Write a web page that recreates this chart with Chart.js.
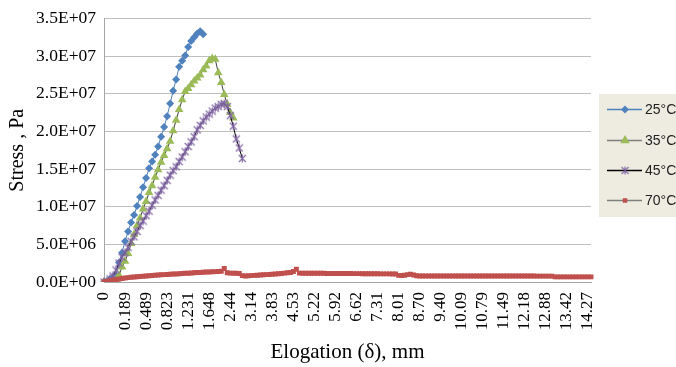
<!DOCTYPE html>
<html>
<head>
<meta charset="utf-8">
<script src="https://cdn.jsdelivr.net/npm/chart.js@4/dist/chart.umd.min.js"></script>
<style>
html,body{margin:0;padding:0;background:#fff;}
#wrap{width:676px;height:367px;position:relative;}
</style>
</head>
<body>
<div id="wrap"><canvas id="c" width="676" height="367"></canvas></div>
<script>
// ---- data ----
const tickLabels = ['0','0.189','0.489','0.823','1.231','1.648','2.44','3.14','3.83','4.53','5.22','5.92','6.62','7.31','8.01','8.70','9.40','10.09','10.79','11.49','12.18','12.88','13.42','14.27'];
const categoryCount = 163;
const labelStep = 7;
const seriesNames = ['25°C','35°C','45°C','70°C'];

const stress25 = [0,0.13e6,0.4e6,0.65e6,0.9e6,2.6e6,3.9e6,5.4e6,6.7e6,7.9e6,8.9e6,10.1e6,11.3e6,12.6e6,13.8e6,15.1e6,16.0e6,16.9e6,18.0e6,19.3e6,20.6e6,22.0e6,23.7e6,25.4e6,26.9e6,28.6e6,29.4e6,30.1e6,31.2e6,32.0e6,32.5e6,33.0e6,33.3e6,32.9e6];

const stress35 = [0,0,0.05e6,0.15e6,0.3e6,0.9e6,2.0e6,2.75e6,3.8e6,5.1e6,6.3e6,7.5e6,8.5e6,9.7e6,10.7e6,11.9e6,12.8e6,13.9e6,14.9e6,15.9e6,16.8e6,17.7e6,18.7e6,20.1e6,21.5e6,22.9e6,24.2e6,25.3e6,25.7e6,26.2e6,26.7e6,27.1e6,27.5e6,28.2e6,28.7e6,29.4e6,29.7e6,29.6e6,27.8e6,26.5e6,24.9e6,23.6e6,22.5e6,21.8e6];

const stress45 = [0,0.1e6,0.4e6,0.8e6,1.6e6,2.5e6,3.3e6,3.9e6,4.6e6,5.4e6,6.0e6,6.7e6,7.5e6,8.1e6,8.8e6,9.4e6,10.2e6,10.9e6,11.5e6,12.2e6,12.8e6,13.5e6,14.2e6,14.8e6,15.3e6,16.0e6,16.6e6,17.3e6,18.0e6,18.6e6,19.3e6,20.2e6,20.8e6,21.4e6,21.9e6,22.3e6,22.7e6,23.1e6,23.3e6,23.6e6,23.7e6,23.3e6,22.1e6,20.7e6,19.0e6,17.8e6,16.4e6];

const stress70 = [
0,0.08e6,0.16e6,0.24e6,0.32e6,0.40e6,0.47e6,0.53e6,0.58e6,0.62e6,0.66e6,0.70e6,0.73e6,0.77e6,0.80e6,0.84e6,0.87e6,0.90e6,0.93e6,0.95e6,
0.98e6,1.00e6,1.03e6,1.05e6,1.07e6,1.10e6,1.12e6,1.15e6,1.17e6,1.20e6,1.22e6,1.25e6,1.27e6,1.30e6,1.32e6,1.34e6,1.36e6,1.38e6,1.40e6,1.43e6,
1.80e6,1.22e6,1.18e6,1.17e6,1.15e6,1.12e6,0.85e6,0.80e6,0.82e6,0.85e6,0.88e6,0.90e6,0.93e6,0.95e6,0.98e6,1.00e6,1.03e6,1.06e6,1.10e6,1.14e6,
1.18e6,1.22e6,1.26e6,1.40e6,1.70e6,1.18e6,
1.17e6,1.17e6,1.16e6,1.16e6,1.16e6,1.15e6,1.15e6,1.15e6,1.14e6,1.14e6,1.14e6,1.13e6,1.13e6,1.13e6,1.12e6,1.12e6,1.12e6,1.11e6,1.11e6,1.11e6,
1.10e6,1.10e6,1.10e6,1.09e6,1.09e6,1.09e6,1.08e6,1.08e6,1.08e6,1.08e6,1.07e6,1.07e6,
0.88e6,0.86e6,0.90e6,0.98e6,1.04e6,0.92e6,0.84e6,
0.80e6,0.80e6,0.80e6,0.79e6,0.80e6,0.80e6,0.80e6,0.80e6,0.79e6,0.79e6,0.80e6,0.80e6,0.80e6,0.80e6,0.79e6,0.79e6,0.79e6,0.80e6,0.80e6,0.80e6,
0.79e6,0.79e6,0.79e6,0.79e6,0.80e6,0.80e6,0.79e6,0.79e6,0.79e6,0.79e6,0.79e6,0.79e6,0.79e6,0.79e6,0.79e6,0.79e6,0.79e6,0.79e6,0.79e6,0.78e6,
0.78e6,0.78e6,0.78e6,0.78e6,0.78e6,
0.68e6,0.68e6,0.68e6,0.68e6,0.68e6,0.68e6,0.68e6,0.68e6,0.68e6,0.68e6,0.68e6,0.68e6,0.68e6
];

// ---- build the category labels ----
const categories = [];
for (let i = 0; i < categoryCount; i++) {
  categories.push(i % labelStep === 0 && tickLabels[i / labelStep] !== undefined ? tickLabels[i / labelStep] : '');
}

function sci(v) {
  if (v === 0) return '0.0E+00';
  const e = Math.floor(Math.log10(v) + 1e-9);
  const m = v / Math.pow(10, e);
  return m.toFixed(1) + 'E+' + String(e).padStart(2, '0');
}

// asterisk marker (x plus vertical stroke), like the spreadsheet "star" marker
function makeAsterisk(color) {
  const c = document.createElement('canvas');
  c.width = 9; c.height = 9;
  const g = c.getContext('2d');
  g.strokeStyle = color; g.lineWidth = 1.1;
  g.beginPath();
  g.moveTo(1, 1); g.lineTo(8, 8);
  g.moveTo(8, 1); g.lineTo(1, 8);
  g.moveTo(4.5, 0.5); g.lineTo(4.5, 8.5);
  g.stroke();
  return c;
}
const asterisk = makeAsterisk('#8064A2');

const serif = "'Liberation Serif', 'Times New Roman', serif";

const legendPlugin = {
  id: 'boxLegend',
  afterDraw(chart) {
    const ctx = chart.ctx;
    ctx.save();
    ctx.fillStyle = '#EEECE1';
    ctx.fillRect(599, 94, 77, 123);
    const ys = [109, 140, 170, 200];
    chart.data.datasets.forEach((ds, i) => {
      const y = ys[i];
      ctx.strokeStyle = ds.legendLine;
      ctx.lineWidth = 1.3;
      ctx.beginPath(); ctx.moveTo(607, y + 0.5); ctx.lineTo(642, y + 0.5); ctx.stroke();
      ctx.fillStyle = ds.pointBackgroundColor;
      ctx.strokeStyle = ds.pointBorderColor;
      Chart.helpers.drawPoint(ctx, {pointStyle: ds.pointStyle, radius: ds.legendRadius, rotation: 0, borderWidth: ds.pointBorderWidth}, 625, y + 0.5);
      ctx.fillStyle = '#222';
      ctx.font = "14px 'Liberation Sans', Arial, sans-serif";
      ctx.textBaseline = 'middle';
      ctx.textAlign = 'left';
      ctx.fillText(ds.label, 645, y + 1);
    });
    ctx.restore();
  }
};

new Chart(document.getElementById('c'), {
  type: 'line',
  data: {
    labels: categories,
    datasets: [
      {label: seriesNames[0], data: stress25, order: 4, borderColor: '#4F81BD', borderWidth: 1, legendLine: '#4F81BD',
       pointStyle: 'rectRot', pointRadius: 4, legendRadius: 4, pointBackgroundColor: '#4F81BD', pointBorderColor: '#4F81BD', pointBorderWidth: 0},
      {label: seriesNames[1], data: stress35, order: 3, borderColor: '#404040', borderWidth: 1, legendLine: '#808080',
       pointStyle: 'triangle', pointRadius: 5, legendRadius: 5.5, pointBackgroundColor: '#9BBB59', pointBorderColor: '#9BBB59', pointBorderWidth: 0},
      {label: seriesNames[2], data: stress45, order: 2, borderColor: '#000000', borderWidth: 1, legendLine: '#000000',
       pointStyle: asterisk, pointRadius: 4, legendRadius: 4, pointBackgroundColor: '#8064A2', pointBorderColor: '#8064A2', pointBorderWidth: 1},
      {label: seriesNames[3], data: stress70, order: 1, borderColor: '#7F7F7F', borderWidth: 1, legendLine: '#7F7F7F',
       pointStyle: 'rect', pointRadius: 3.5, legendRadius: 3.2, pointBackgroundColor: '#C0504D', pointBorderColor: '#C0504D', pointBorderWidth: 0}
    ]
  },
  options: {
    responsive: false,
    animation: false,
    devicePixelRatio: 1,
    layout: {padding: {top: 15, right: 85, left: 0, bottom: 0}},
    plugins: {legend: {display: false}, tooltip: {enabled: false}},
    elements: {line: {tension: 0}},
    scales: {
      x: {
        type: 'category',
        offset: false,
        grid: {display: false, drawTicks: false},
        border: {display: true, color: '#A6A6A6', width: 1},
        ticks: {
          autoSkip: false, minRotation: 90, maxRotation: 90, padding: 10,
          color: '#000', font: {family: serif, size: 17},
          callback: function(v, i) { return categories[i]; }
        },
        title: {display: true, text: 'Elogation (δ), mm', color: '#000', font: {family: serif, size: 21}, padding: {top: 0, bottom: 2}},
        afterFit(scale) { scale.height = 85; }
      },
      y: {
        min: 0, max: 3.5e7,
        grid: {color: '#BFBFBF', drawTicks: false, lineWidth: 1},
        border: {display: true, color: '#A6A6A6', width: 1},
        ticks: {stepSize: 5e6, padding: 8, color: '#000', font: {family: serif, size: 17.5}, callback: v => sci(v)},
        title: {display: true, text: 'Stress , Pa', color: '#000', font: {family: serif, size: 20}, padding: {top: 6, bottom: 0}},
        afterFit(scale) { scale.width = 104; }
      }
    }
  },
  plugins: [legendPlugin]
});
</script>
</body>
</html>
